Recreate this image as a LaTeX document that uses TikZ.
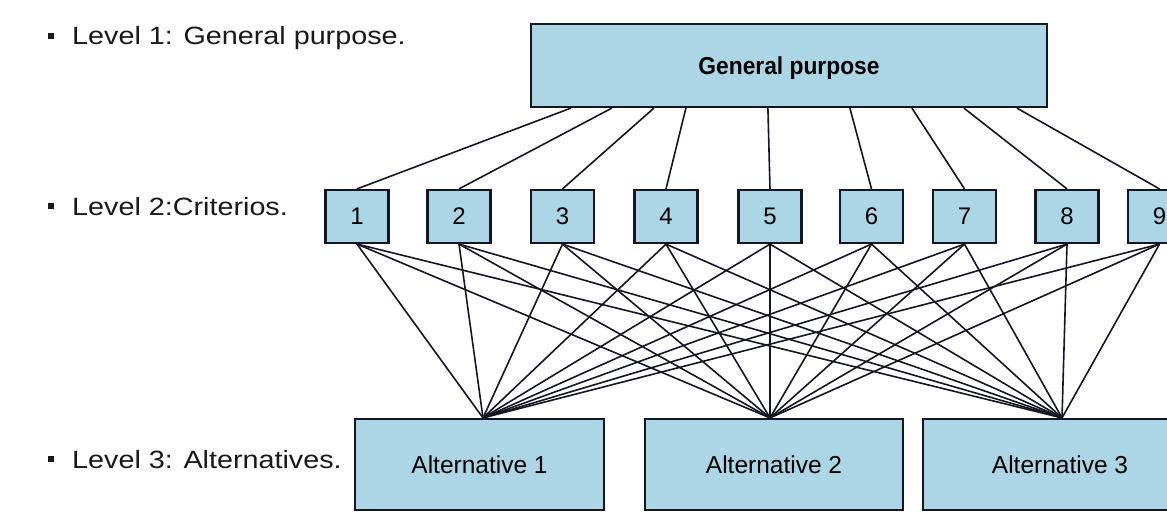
\documentclass[tikz,border=0pt]{standalone}
\usepackage{fontspec}
\setmainfont{Liberation Sans}
\newfontfamily\levelfont[FakeStretch=1.15]{Liberation Sans}
\newfontfamily\gpfont[FakeStretch=0.93]{Liberation Sans}
\definecolor{boxblue}{RGB}{172,214,230}
\definecolor{inkline}{RGB}{20,22,35}
\tikzset{
  box/.style={draw=inkline, line width=2.2pt, fill=boxblue, rectangle, inner sep=0pt, text depth=0pt},
  crit/.style={box, minimum width=63pt, minimum height=53pt, font=\fontsize{24}{28}\selectfont},
  alt/.style={box, minimum height=91pt, font=\fontsize{24.5}{28}\selectfont},
  conn/.style={draw=inkline, line width=1.6pt},
  level/.style={anchor=base west, inner sep=0pt, font=\levelfont\fontsize{25}{30}\selectfont, text=black!90},
  bullet/.style={fill=black!90, draw=none, minimum size=6pt, inner sep=0pt, rectangle}
}
\begin{document}
\begin{tikzpicture}[x=1pt,y=1pt]
\useasboundingbox (0,0) rectangle (1167,-513);
\clip (0,0) rectangle (1167,-513);
\fill[white] (0,0) rectangle (1167,-513);

% level labels
\node[bullet] (b1) at (50.5,-36) {};
\node[level] (l1) at (72,-45) {Level 1: General purpose.};
\node[bullet] (b2) at (50.5,-206) {};
\node[level] (l2) at (72,-215) {Level 2:Criterios.};
\node[bullet] (b3) at (50.5,-459) {};
\node[level] (l3) at (72,-468) {Level 3: Alternatives.};

% general purpose
\node[box, minimum width=516pt, minimum height=83pt, font=\gpfont\bfseries\fontsize{24.5}{28}\selectfont] (gp) at (789,-65.5) {General purpose};

% criteria
\foreach \i/\x in {1/357,2/459,3/562.5,4/666,5/770,6/871.5,7/964.5,8/1067,9/1159.5}
  \node[crit] (c\i) at (\x,-216.5) {\i};

% alternatives
\node[alt, minimum width=249pt] (a1) at (479.5,-464.5) {Alternative 1};
\node[alt, minimum width=258pt] (a2) at (774,-464.5) {Alternative 2};
\node[alt, minimum width=274pt] (a3) at (1060,-464.5) {Alternative 3};

\coordinate (p1) at ([xshift=3.5pt]a1.north);
\coordinate (p2) at ([xshift=-4pt]a2.north);
\coordinate (p3) at ([xshift=2pt]a3.north);

% level 1 -> level 2
\foreach \i/\d in {1/41,2/82,3/124,4/156,5/238,6/320,7/382,8/434,9/487}
  \draw[conn] ([xshift=\d pt]gp.south west) -- (c\i.north);

% level 2 -> level 3
\foreach \i in {1,...,9}
  \foreach \j in {1,2,3}
    \draw[conn] (c\i.south) -- (p\j);
\end{tikzpicture}
\end{document}
